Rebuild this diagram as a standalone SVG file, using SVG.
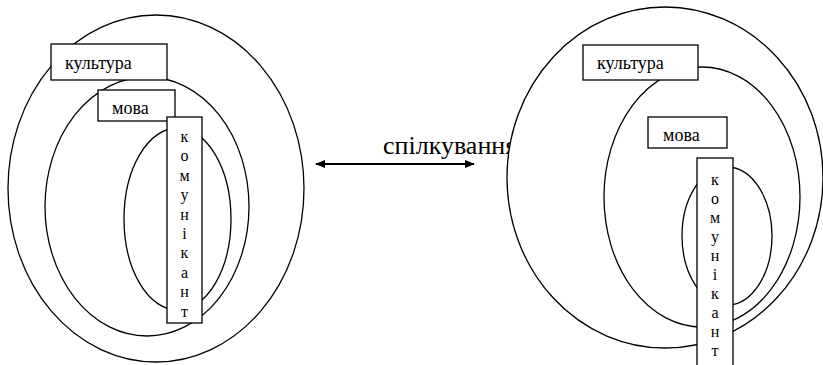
<svg xmlns="http://www.w3.org/2000/svg" width="823" height="365" viewBox="0 0 823 365">
<style>
.e{fill:#fff;stroke:#000;stroke-width:1.3}
.b{fill:#fff;stroke:#000;stroke-width:1.3}
.t{font-family:"Liberation Serif","Times New Roman",serif;font-size:18px;fill:#000}
.v{font-family:"Liberation Serif","Times New Roman",serif;font-size:16px;fill:#000;text-anchor:middle}
.big{font-family:"Liberation Serif","Times New Roman",serif;font-size:26px;fill:#000}
</style>
<defs>
<marker id="ah" viewBox="0 0 10 8" refX="9" refY="4" markerWidth="10" markerHeight="8" markerUnits="userSpaceOnUse" orient="auto-start-reverse">
<path d="M0,0 L10,4 L0,8 z" fill="#000"/>
</marker>
</defs>
<g id="connectors">
<line x1="316" y1="164" x2="474" y2="164" stroke="#000" stroke-width="2" marker-start="url(#ah)" marker-end="url(#ah)"/>
<text class="big" x="383" y="154">спілкування</text>
</g>
<g id="left-culture-ellipse"><ellipse class="e" cx="156" cy="188.5" rx="148" ry="173.5"/></g>
<g id="left-language-ellipse"><ellipse class="e" cx="147" cy="206.5" rx="102" ry="129.5"/></g>
<g id="left-communicant-ellipse"><ellipse class="e" cx="177.5" cy="219" rx="53.5" ry="91"/></g>
<g id="left-culture"><rect class="b" x="51" y="44" width="116" height="36"/><text class="t" x="65" y="69">культура</text></g>
<g id="left-language"><rect class="b" x="98" y="90" width="77" height="31"/><text class="t" x="112" y="114">мова</text></g>
<g id="left-communicant"><rect class="b" x="167" y="117" width="35" height="206"/>
<text class="v"><tspan x="184.5" y="142">к</tspan><tspan x="184.5" y="161.4">о</tspan><tspan x="184.5" y="180.8">м</tspan><tspan x="184.5" y="200.2">у</tspan><tspan x="184.5" y="219.6">н</tspan><tspan x="184.5" y="239">і</tspan><tspan x="184.5" y="258.4">к</tspan><tspan x="184.5" y="277.8">а</tspan><tspan x="184.5" y="297.2">н</tspan><tspan x="184.5" y="316.6">т</tspan></text></g>
<g id="right-culture-ellipse"><ellipse class="e" cx="665" cy="177.5" rx="158" ry="170.5"/></g>
<g id="right-language-ellipse"><ellipse class="e" cx="702" cy="197" rx="98" ry="130"/></g>
<g id="right-communicant-ellipse"><ellipse class="e" cx="727" cy="236" rx="45" ry="69"/></g>
<g id="right-culture"><rect class="b" x="583" y="45" width="115" height="35"/><text class="t" x="597" y="69">культура</text></g>
<g id="right-language"><rect class="b" x="648" y="117" width="79" height="31"/><text class="t" x="663" y="141">мова</text></g>
<g id="right-communicant"><rect class="b" x="697" y="158" width="36" height="215"/>
<text class="v"><tspan x="715" y="185">к</tspan><tspan x="715" y="204">о</tspan><tspan x="715" y="223">м</tspan><tspan x="715" y="242">у</tspan><tspan x="715" y="261">н</tspan><tspan x="715" y="280">і</tspan><tspan x="715" y="299">к</tspan><tspan x="715" y="318">а</tspan><tspan x="715" y="337">н</tspan><tspan x="715" y="356">т</tspan></text></g>
</svg>
